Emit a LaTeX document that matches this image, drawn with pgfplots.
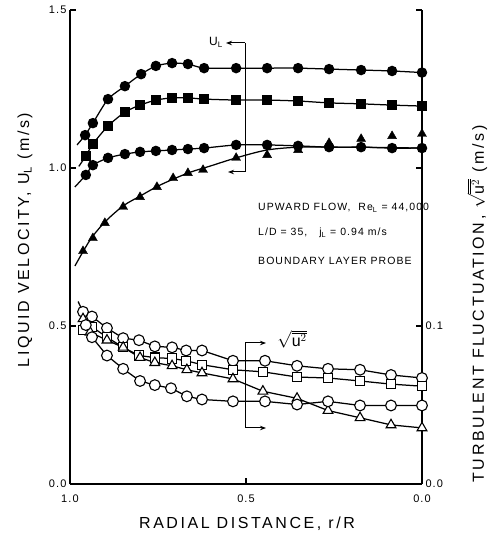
\documentclass[border=0pt]{standalone}
\usepackage{fontspec}
\setmainfont{Liberation Sans}
\newfontfamily\lbl[LetterSpace=16]{Liberation Sans}
\newfontfamily\tck[LetterSpace=10]{Liberation Sans}
\usepackage{pgfplots}
\pgfplotsset{compat=1.18}
\usetikzlibrary{arrows.meta}

\begin{document}
\begin{tikzpicture}
\path[use as bounding box] (-70pt,-59pt) rectangle (425pt,484pt);

% left axis: liquid velocity
\begin{axis}[
    at={(0,0)}, anchor=south west,
    scale only axis, width=352pt, height=474pt,
    xmin=0, xmax=1, x dir=reverse,
    ymin=0, ymax=1.5,
    axis x line*=bottom, axis y line*=left,
    axis line style={-, line width=1.1pt},
    xtick={0,0.5,1}, ytick={0,0.5,1,1.5},
    tick align=inside, major tick length=6pt,
    tick style={line width=1.1pt, black},
    ticklabel style={font=\tck\fontsize{11}{12}\selectfont},
    xticklabel style={yshift=-7pt},
    /pgf/number format/.cd, fixed, fixed zerofill, precision=1, assume math mode=true,
    /pgfplots/.cd,
    clip=false,
]
% top: filled circles
\addplot[line width=1.25pt, smooth, tension=0.4, mark=*, mark size=4.6pt, mark indices={2,...,17}]
  coordinates {(0.980,1.073) (0.957,1.104) (0.935,1.142) (0.892,1.218) (0.844,1.259)
  (0.798,1.297) (0.756,1.323) (0.710,1.332) (0.665,1.329) (0.619,1.316)
  (0.528,1.316) (0.440,1.316) (0.352,1.316) (0.264,1.313) (0.173,1.310)
  (0.085,1.307) (0.000,1.302)};
% middle: filled squares
\addplot[line width=1.25pt, smooth, tension=0.4, mark=square*, mark size=4.5pt, mark indices={2,...,17}]
  coordinates {(0.975,1.005) (0.955,1.038) (0.935,1.076) (0.892,1.133) (0.844,1.177)
  (0.801,1.199) (0.756,1.215) (0.710,1.222) (0.665,1.222) (0.619,1.218)
  (0.528,1.215) (0.440,1.215) (0.352,1.212) (0.264,1.206) (0.173,1.203)
  (0.085,1.199) (0.000,1.196)};
% lower: filled circles
\addplot[line width=1.25pt, smooth, tension=0.4, mark=*, mark size=4.6pt, mark indices={2,...,17}]
  coordinates {(0.986,0.940) (0.955,0.978) (0.935,1.009) (0.892,1.032) (0.844,1.044)
  (0.801,1.051) (0.756,1.054) (0.710,1.057) (0.665,1.060) (0.619,1.063)
  (0.528,1.073) (0.440,1.073) (0.352,1.070) (0.264,1.066) (0.173,1.066)
  (0.085,1.063) (0.000,1.063)};
% filled triangles and their fitted curve
\addplot[line width=1.25pt, smooth, tension=0.5, no marks]
  coordinates {(0.986,0.690) (0.943,0.772) (0.901,0.829) (0.849,0.880) (0.801,0.911)
  (0.744,0.946) (0.665,0.984) (0.602,1.006) (0.528,1.032) (0.440,1.057)
  (0.347,1.066) (0.233,1.066) (0.119,1.065) (0.000,1.063)};
\addplot[only marks, mark=triangle*, mark size=5.2pt]
  coordinates {(0.963,0.737) (0.935,0.778) (0.901,0.826) (0.849,0.877) (0.801,0.908)
  (0.753,0.940) (0.707,0.968) (0.665,0.984) (0.622,0.994) (0.528,1.032)
  (0.440,1.041) (0.352,1.057) (0.264,1.079) (0.173,1.092) (0.085,1.101)
  (0.000,1.108)};
\end{axis}

% right axis: turbulent fluctuation
\begin{axis}[
    at={(0,0)}, anchor=south west,
    scale only axis, width=352pt, height=474pt,
    xmin=0, xmax=1, x dir=reverse,
    ymin=0, ymax=0.3,
    axis x line=none, axis y line*=right,
    axis line style={-, line width=1.1pt},
    ytick={0,0.1,0.2,0.3}, yticklabels={0.0,0.1,{},{}},
    tick align=inside, major tick length=6pt,
    tick style={line width=1.1pt, black},
    ticklabel style={font=\tck\fontsize{11}{12}\selectfont},
    clip=false,
    every axis plot/.append style={line width=1.25pt, mark options={fill=white, line width=1.1pt}},
]
\addplot[mark=*, mark size=5.4pt, mark indices={2,...,17}]
  coordinates {(0.977,0.1155) (0.963,0.109) (0.9375,0.106) (0.895,0.0987) (0.849,0.0923)
  (0.804,0.091) (0.759,0.0871) (0.710,0.0865) (0.670,0.0845) (0.625,0.0845)
  (0.537,0.078) (0.446,0.078) (0.355,0.0748) (0.267,0.0729) (0.176,0.0723)
  (0.088,0.069) (0.000,0.0671)};
\addplot[mark=square*, mark size=4.6pt]
  coordinates {(0.963,0.0974) (0.9375,0.0994) (0.895,0.0929) (0.849,0.0865) (0.804,0.0813)
  (0.759,0.080) (0.710,0.0794) (0.670,0.078) (0.625,0.0755) (0.537,0.0723)
  (0.452,0.071) (0.355,0.0677) (0.267,0.0671) (0.176,0.0652) (0.088,0.0632)
  (0.000,0.0619)};
\addplot[mark=triangle*, mark size=5.6pt]
  coordinates {(0.963,0.1045) (0.943,0.0961) (0.895,0.091) (0.849,0.0865) (0.801,0.080)
  (0.759,0.0768) (0.710,0.0748) (0.668,0.0723) (0.625,0.0703) (0.537,0.0665)
  (0.452,0.0587) (0.355,0.0542) (0.267,0.0465) (0.176,0.0419) (0.088,0.0374)
  (0.000,0.0355)};
\addplot[mark=*, mark size=5.4pt]
  coordinates {(0.955,0.1006) (0.9375,0.0929) (0.895,0.0813) (0.849,0.0729) (0.801,0.0652)
  (0.759,0.0626) (0.713,0.0606) (0.668,0.0555) (0.625,0.0535) (0.537,0.0523)
  (0.446,0.0523) (0.355,0.0503) (0.267,0.0523) (0.176,0.0497) (0.088,0.0497)
  (0.000,0.0497)};
\end{axis}

% brackets
\draw[line width=1pt, -{Stealth[length=6pt,width=4.5pt]}] (175pt,441pt) -- (156pt,441pt);
\draw[line width=1pt] (175pt,441pt) -- (175pt,312pt);
\draw[line width=1pt, -{Stealth[length=6pt,width=4.5pt]}] (175pt,312pt) -- (158pt,312pt);
\node[anchor=east, inner sep=0pt, font=\tck\fontsize{12}{13}\selectfont] at (153pt,442pt) {U\textsubscript{L}};

\draw[line width=1pt, -{Stealth[length=6pt,width=4.5pt]}] (175pt,141pt) -- (196pt,141pt);
\draw[line width=1pt] (175pt,141pt) -- (175pt,56pt);
\draw[line width=1pt, -{Stealth[length=6pt,width=4.5pt]}] (175pt,56pt) -- (196pt,56pt);
\node[font=\fontsize{16}{18}\selectfont] at (222pt,145pt) {$\sqrt{\overline{\mathrm{u}^2}}$};

% flow conditions
\node[anchor=west, inner sep=0pt, font=\tck\fontsize{10.5}{12}\selectfont] at (188pt,276pt) {UPWARD FLOW,\ \ Re\textsubscript{L} = 44,000};
\node[anchor=west, inner sep=0pt, font=\tck\fontsize{10.5}{12}\selectfont] at (188pt,251pt) {L/D = 35,\ \ \ j\textsubscript{L} = 0.94 m/s};
\node[anchor=west, inner sep=0pt, font=\tck\fontsize{10.5}{12}\selectfont] at (188pt,223pt) {BOUNDARY LAYER PROBE};

% axis titles
\node[font=\lbl\fontsize{16}{18}\selectfont] at (177pt,-40pt) {RADIAL DISTANCE, r/R};
\node[rotate=90, font=\lbl\fontsize{16}{18}\selectfont] at (-45pt,244pt) {LIQUID VELOCITY, U\textsubscript{L} (m/s)};
\node[rotate=90, font=\lbl\fontsize{16}{18}\selectfont] at (407pt,180pt) {TURBULENT FLUCTUATION, $\sqrt{\overline{\mathrm{u}^2}}$ (m/s)};
\end{tikzpicture}
\end{document}
